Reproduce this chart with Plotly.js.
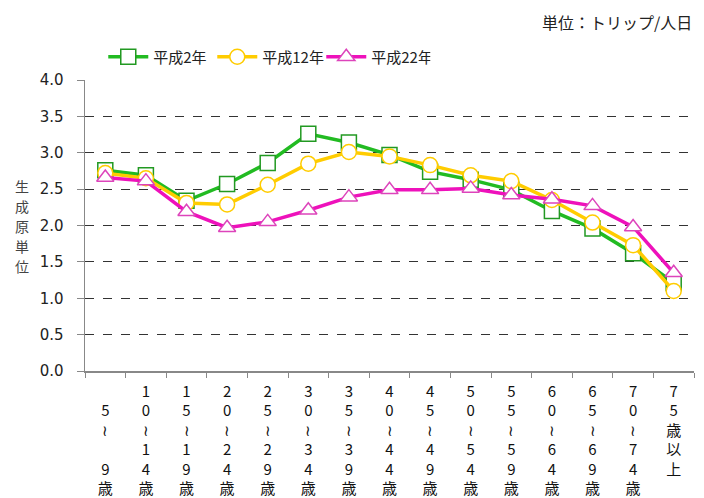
<!DOCTYPE html>
<html><head><meta charset="utf-8">
<script src="https://cdn.plot.ly/plotly-3.0.1.min.js"></script>
<style>body{margin:0;background:#fff}#c{width:704px;height:498px}</style>
</head><body><div id="c"></div>
<script>
const categories = ["5-9","10-14","15-19","20-24","25-29","30-34","35-39","40-44","45-49","50-54","55-59","60-64","65-69","70-74","75+"];
const tickLabels = [
  " <br>5<br>≀<br> <br>9<br>歳",
  "1<br>0<br>≀<br>1<br>4<br>歳",
  "1<br>5<br>≀<br>1<br>9<br>歳",
  "2<br>0<br>≀<br>2<br>4<br>歳",
  "2<br>5<br>≀<br>2<br>9<br>歳",
  "3<br>0<br>≀<br>3<br>4<br>歳",
  "3<br>5<br>≀<br>3<br>9<br>歳",
  "4<br>0<br>≀<br>4<br>4<br>歳",
  "4<br>5<br>≀<br>4<br>9<br>歳",
  "5<br>0<br>≀<br>5<br>4<br>歳",
  "5<br>5<br>≀<br>5<br>9<br>歳",
  "6<br>0<br>≀<br>6<br>4<br>歳",
  "6<br>5<br>≀<br>6<br>9<br>歳",
  "7<br>0<br>≀<br>7<br>4<br>歳",
  "7<br>5<br>歳<br>以<br>上<br> "
];
const h2  = [2.76,2.69,2.34,2.57,2.86,3.26,3.14,2.97,2.74,2.63,2.49,2.20,1.96,1.62,1.21];
const h12 = [2.72,2.65,2.31,2.29,2.56,2.85,3.01,2.95,2.83,2.69,2.61,2.35,2.04,1.73,1.10];
const h22 = [2.66,2.61,2.19,1.97,2.05,2.21,2.39,2.49,2.49,2.51,2.42,2.36,2.27,1.98,1.35];
const seriesNames = ["平成2年","平成12年","平成22年"];
const yTitleChars = ["生","成","原","単","位"];

const jp = '"Noto Sans CJK JP", sans-serif';
const traces = [
  {x:categories, y:h2, name:seriesNames[0], type:'scatter', mode:'lines+markers',
   line:{color:'#22BB22', width:3.5},
   marker:{symbol:'square', size:15, color:'#ffffff', line:{color:'#229922', width:1.5}}},
  {x:categories, y:h12, name:seriesNames[1], type:'scatter', mode:'lines+markers',
   line:{color:'#FFCC00', width:3.5},
   marker:{symbol:'circle', size:15, color:'#ffffff', line:{color:'#FFCC00', width:1.5}}},
  {x:categories, y:h22, name:seriesNames[2], type:'scatter', mode:'lines+markers',
   line:{color:'#EE11BB', width:3.5},
   marker:{symbol:'triangle-up', size:15, color:'#ffffff', line:{color:'#DD44BB', width:1.5}}}
];
const annotations = [
  {text:'単位：トリップ/人日', xref:'paper', yref:'paper', x:1.0, xanchor:'right',
   y:1.0+(80-22)/291, yanchor:'middle', showarrow:false,
   font:{family:jp, size:16, color:'#222'}}
];
yTitleChars.forEach((ch,i)=>{
  annotations.push({text:ch, xref:'paper', yref:'paper', x:-(85-22)/609, xanchor:'center',
    y:(371-(186+i*20))/291, yanchor:'middle', showarrow:false,
    font:{family:jp, size:14, color:'#444'}});
});
const layout = {
  width:704, height:498,
  margin:{l:85, r:10, t:80, b:127},
  paper_bgcolor:'#fff', plot_bgcolor:'#fff',
  showlegend:true,
  legend:{orientation:'h', x:0.03, xanchor:'left', y:1.079, yanchor:'middle',
    font:{family:jp, size:15, color:'#222'}, entrywidth:54, entrywidthmode:'pixels',
    itemwidth:40, tracegroupgap:0},
  xaxis:{type:'category', range:[-0.5,14.5], tickvals:categories, ticktext:tickLabels,
    tickangle:0, showline:true, linecolor:'#888', linewidth:1.5, ticks:'outside', ticklen:5,
    tickcolor:'#888', tickson:'boundaries', showgrid:false, ticklabelstandoff:6,
    tickfont:{family:jp, size:15, color:'#111'}},
  yaxis:{range:[0,4], dtick:0.5, tick0:0, tickformat:'.1f', showline:true, linecolor:'#888',
    linewidth:1.5, ticks:'outside', ticklen:7, tickcolor:'#888', showgrid:true,
    gridcolor:'#333', griddash:'dash', gridwidth:1, zeroline:false, ticklabelstandoff:10,
    tickfont:{family:'"DejaVu Sans", sans-serif', size:15, color:'#222'}},
  annotations:annotations
};
Plotly.newPlot('c', traces, layout, {displayModeBar:false, staticPlot:true});
</script></body></html>
